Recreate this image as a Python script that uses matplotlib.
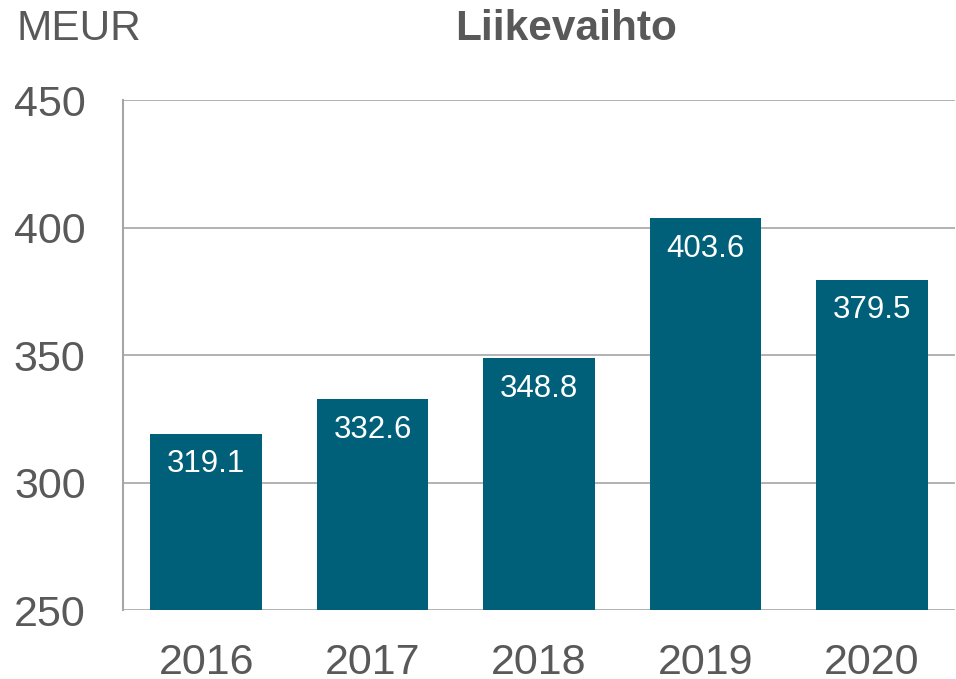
import matplotlib.pyplot as plt

plt.rcParams['font.family'] = ['Liberation Sans', 'DejaVu Sans']

years = ['2016', '2017', '2018', '2019', '2020']
sales = [319.1, 332.6, 348.8, 403.6, 379.5]
yticks = [250, 300, 350, 400, 450]

grey = '#595959'
bar_col = '#00607A'

fig = plt.figure(figsize=(9.56, 6.79), dpi=100)
ax = fig.add_axes([0.1287, 0.1016, 0.8703, 0.7511])

x = range(len(years))
bars = ax.bar(x, sales, width=0.67, color=bar_col, zorder=3)
ax.set_xlim(-0.5, len(years) - 0.5)
ax.set_ylim(250, 450)
ax.set_yticks(yticks)
ax.set_xticks(list(x))
ax.set_xticklabels(years)

ax.yaxis.grid(True, color='#A6A6A6', linewidth=1.2, zorder=0)
for s in ['top', 'right', 'bottom']:
    ax.spines[s].set_visible(False)
ax.spines['left'].set_color('#A6A6A6')
ax.spines['left'].set_linewidth(1.5)
ax.tick_params(length=0, labelsize=31, colors=grey)
ax.tick_params(axis='y', pad=27)
ax.tick_params(axis='x', pad=24)

for b, v in zip(bars, sales):
    ax.annotate(f'{v:.1f}', (b.get_x() + b.get_width() / 2, v),
                xytext=(0, -22), textcoords='offset points',
                ha='center', va='center', color='white', fontsize=22.5, zorder=4)

fig.text(0.017, 0.957, 'MEUR', fontsize=30.5, color=grey, va='center', ha='left')
fig.text(0.592, 0.957, 'Liikevaihto', fontsize=30.5, color=grey, va='center', ha='center',
         fontweight='bold')

fig.savefig('out.png', dpi=100)
